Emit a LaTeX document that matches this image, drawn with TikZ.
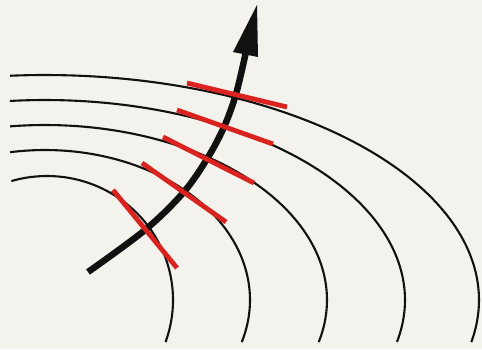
\documentclass[tikz,border=0pt]{standalone}
\usetikzlibrary{arrows.meta}
\definecolor{paper}{RGB}{243,242,236}
\definecolor{wavered}{RGB}{218,34,30}
\definecolor{ink}{RGB}{17,17,17}
\tikzset{
  arcline/.style={draw=ink, line width=2.1pt},
  crossbar/.style={draw=wavered, line width=4.8pt},
  rayline/.style={draw=ink, line width=6.5pt},
  rayhead/.style={fill=ink, draw=none}
}
\begin{document}
\begin{tikzpicture}[x=1pt,y=-1pt]
\useasboundingbox (0,0) rectangle (482,349);
\fill[paper] (0,0) rectangle (482,349);
% wave fronts (quarter ellipses)
\draw[arcline] plot[domain=-19.8:106.4, samples=90, variable=\t] ({47+126*cos(\t)},{300-124*sin(\t)});
\draw[arcline] plot[domain=-16.3:99.8, samples=90, variable=\t] ({45+205*cos(\t)},{300-150*sin(\t)});
\draw[arcline] plot[domain=-13.9:97.1, samples=90, variable=\t] ({45+282*cos(\t)},{300-175*sin(\t)});
\draw[arcline] plot[domain=-12.1:95.6, samples=90, variable=\t] ({45+360*cos(\t)},{300-200*sin(\t)});
\draw[arcline] plot[domain=-10.8:94.6, samples=90, variable=\t] ({45+434*cos(\t)},{300-225*sin(\t)});
% ray
\coordinate (r0) at (88,272);
\coordinate (r1) at (145,230);
\coordinate (r2) at (183,193);
\coordinate (r3) at (207,159);
\coordinate (r4) at (224,127);
\coordinate (r5) at (236,94);
\coordinate (r6) at (245.5,54);
\draw[rayline] plot[smooth, tension=0.55] coordinates {(r0) (r1) (r2) (r3) (r4) (r5) (r6)};
\coordinate (tip) at (257,5);
\coordinate (hl) at (233,52);
\coordinate (hr) at (258,57);
\fill[rayhead] (tip) -- (hl) -- (hr) -- cycle;
% red cross bars
\coordinate (a1) at (113,190); \coordinate (b1) at (177,268);
\coordinate (a2) at (142,163); \coordinate (b2) at (226,222);
\coordinate (a3) at (163,137); \coordinate (b3) at (254,183);
\coordinate (a4) at (177,110); \coordinate (b4) at (273,144);
\coordinate (a5) at (187,83);  \coordinate (b5) at (287,107);
\draw[crossbar] (a1) -- (b1);
\draw[crossbar] (a2) -- (b2);
\draw[crossbar] (a3) -- (b3);
\draw[crossbar] (a4) -- (b4);
\draw[crossbar] (a5) -- (b5);
\end{tikzpicture}
\end{document}
